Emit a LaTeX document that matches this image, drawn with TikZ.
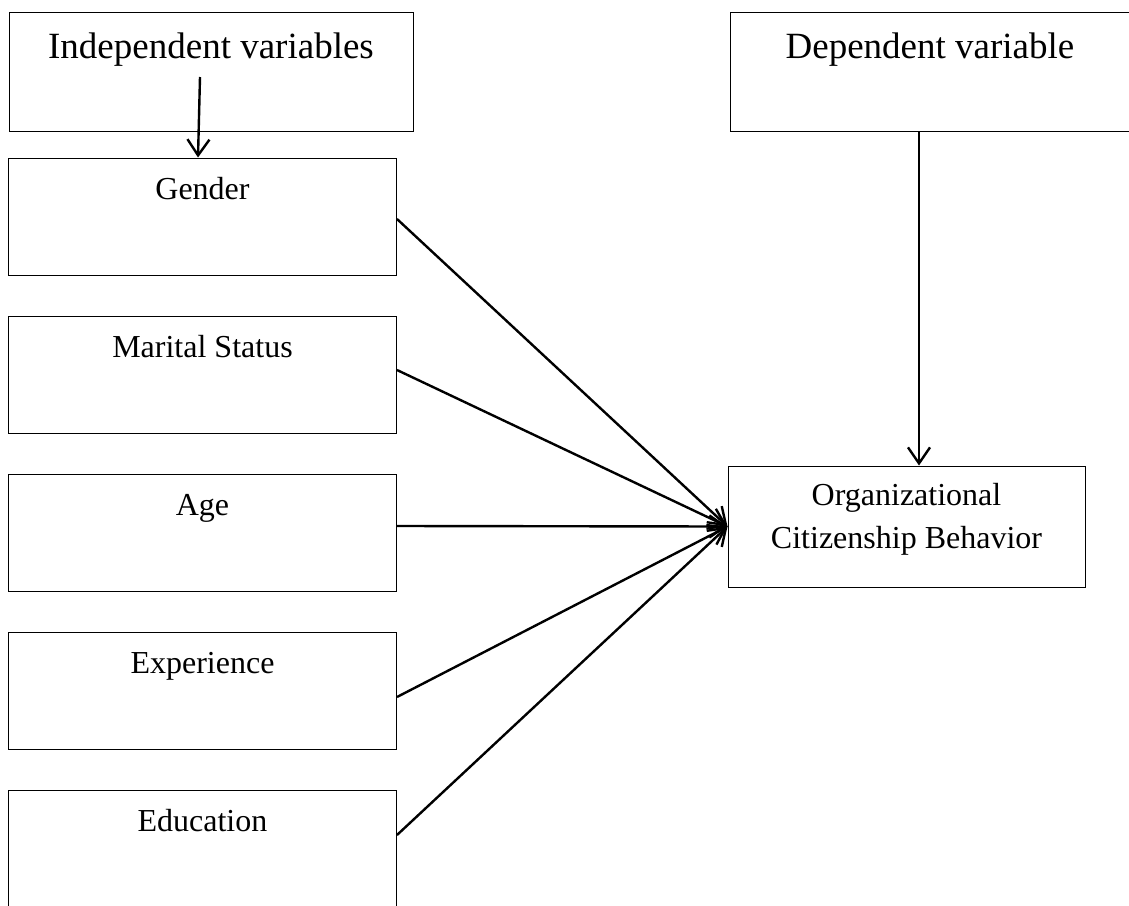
\documentclass[tikz,border=0pt]{standalone}
\usepackage{fontspec}
\setmainfont{Liberation Serif}
\usetikzlibrary{arrows.meta}

\begin{document}
\begin{tikzpicture}[x=1pt, y=1pt, node distance=158pt,
        headbox/.style={draw, rectangle, line width=1pt, inner sep=0pt, text height=46pt, text depth=73pt, font=\fontsize{37}{44}\selectfont},
        varbox/.style={draw, rectangle, line width=1pt, inner sep=0pt, minimum width=388pt, text height=41pt, text depth=76pt, font=\fontsize{32}{43}\selectfont},
        conn/.style={-{Straight Barb[length=16pt,width=22pt]}, line width=2.4pt}]
        \useasboundingbox (0,0) rectangle (1129,-905);

        \node[headbox, minimum width=404pt] (indep) at (211,-71.5) {Independent variables};
        \node[headbox, minimum width=400pt] (dep) at (930,-71.5) {Dependent variable};

        \node[varbox] (gender) at (202.5,-216.5) {Gender};
        \node[varbox, below of=gender] (marital) {Marital Status};
        \node[varbox, below of=marital] (age) {Age};
        \node[varbox, below of=age] (exper) {Experience};
        \node[varbox, below of=exper] (educ) {Education};

        % two lines: baseline of the box is the second line
        \node[varbox, minimum width=357pt, text height=82pt, text depth=39pt, align=center] (ocb) at (906.5,-526.5) {Organizational\\Citizenship Behavior};

        \coordinate (indepout) at (200,-77);
        \draw[conn] (indepout) -- ([xshift=-4.5pt]gender.north);
        \draw[conn] ([xshift=-11pt]dep.south) -- ([xshift=12.5pt]ocb.north);
        \foreach \var/\dy in {gender/-2.5, marital/4.5, age/6.5, exper/-6.5, educ/13.5}
            \draw[conn] ([yshift=\dy pt]\var.east) -- (ocb.west);
    \end{tikzpicture}
\end{document}
